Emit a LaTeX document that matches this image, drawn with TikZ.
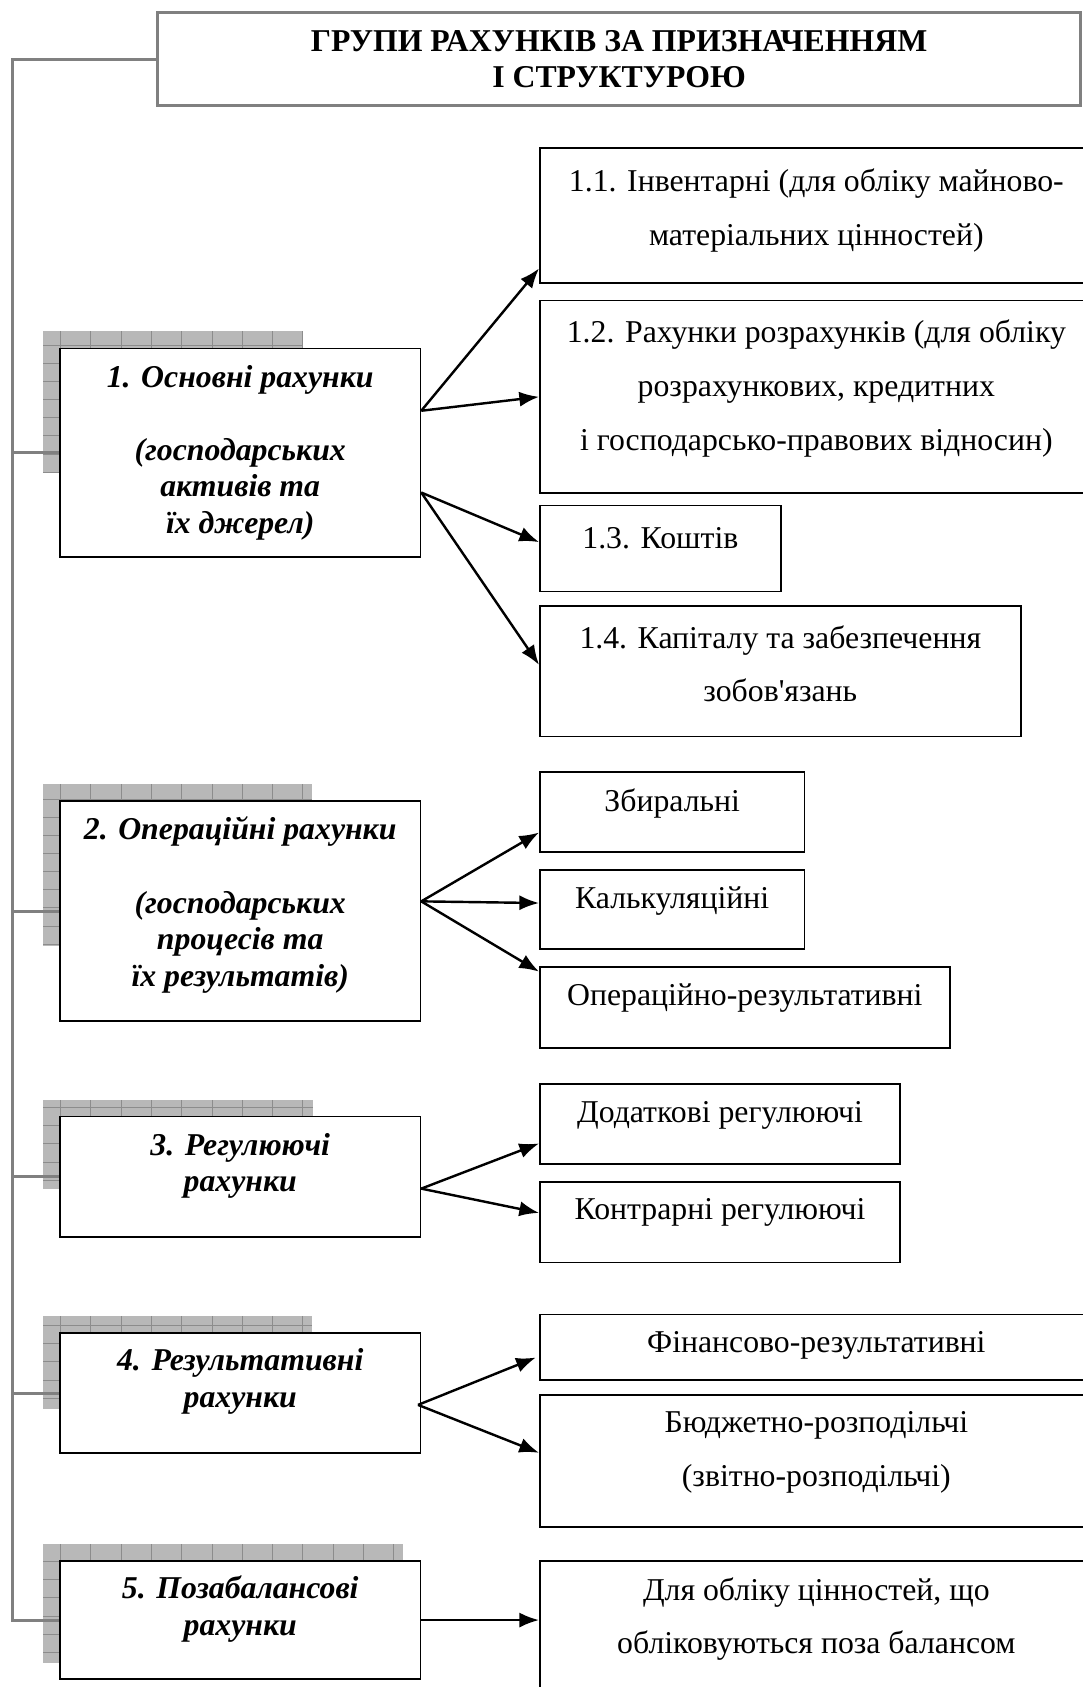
\documentclass[tikz,border=0pt]{standalone}
\usepackage{fontspec}
\setmainfont{Liberation Serif}
\usetikzlibrary{arrows.meta,positioning,backgrounds}
\newdimen\pxu
\pxu=0.025cm
\tikzset{
    textlift/.store in=\liftkern, textlift=0,
    box/.style 2 args={draw, line width=1.1pt, fill=white, inner sep=0pt, anchor=north west,
        execute at begin node={\begin{minipage}[c][#2\pxu][c]{#1\pxu}\centering},
        execute at end node={\par\kern\liftkern\pxu\end{minipage}}},
    head/.style 2 args={box={#1}{#2}, draw=black!50, line width=2pt, font={\fontsize{21}{23.5}\selectfont\bfseries}},
    group/.style 2 args={box={#1}{#2}, font={\fontsize{21}{24.2}\selectfont\bfseries\itshape}},
    kind/.style 2 args={box={#1}{#2}, font={\fontsize{21}{35.6}\selectfont}},
    line/.style={draw, line width=1.6pt, -{Latex[length=13pt,width=10pt]}},
    trunk/.style={draw=black!50, line width=2pt},
    shade/.style={fill=black!28},
    mesh/.style={draw=black!45, line width=0.4pt, xstep=20pt, ystep=12pt}
}
\begin{document}
\begin{tikzpicture}[x=0.025cm, y=-0.025cm]
    \useasboundingbox (0,0) rectangle (1006,1568);
    % Title
    \node [head={858}{87}] (title) at (145,10) {ГРУПИ РАХУНКІВ ЗА ПРИЗНАЧЕННЯМ\\І СТРУКТУРОЮ};

    % Groups of accounts
    \node [group={335}{194}] (osn) at (55,323) {1. Основні рахунки\\[24.2pt](господарських\\активів та\\їх джерел)};
    \node [group={335}{204}, textlift=11] (oper) at (55,744) {2. Операційні рахунки\\[24.2pt](господарських\\процесів та\\їх результатів)};
    \node [group={335}{112}, textlift=20] (reg) at (55,1037) {3. Регулюючі\\рахунки};
    \node [group={335}{112}, textlift=22] (rez) at (55,1238) {4. Результативні\\рахунки};
    \node [group={335}{110}, textlift=20] (poz) at (55,1450) {5. Позабалансові\\рахунки};

    % Kinds of the main accounts
    \node [kind={514}{125}, textlift=9] (inv) at (501,137) {1.1. Інвентарні (для обліку майново-\\матеріальних цінностей)};
    \node [kind={514}{179}, textlift=16, below right=15\pxu and 0pt of inv.south west] (rozr) {1.2. Рахунки розрахунків (для обліку\\розрахункових, кредитних\\і господарсько-правових відносин)};
    \node [kind={224}{80}, textlift=20, below right=10\pxu and 0pt of rozr.south west] (kosh) {1.3. Коштів};
    \node [kind={447}{121}, textlift=14, below right=12\pxu and 0pt of kosh.south west] (kap) {1.4. Капіталу та забезпечення\\зобов\textquotesingle язань};

    % Kinds of the operating accounts
    \node [kind={246}{74}, textlift=16] (zbyr) at (501,717) {Збиральні};
    \node [kind={246}{74}, textlift=16, below right=15\pxu and 0pt of zbyr.south west] (kalk) {Калькуляційні};
    \node [kind={381}{75}, textlift=17, below right=15\pxu and 0pt of kalk.south west] (opres) {Операційно-результативні};

    % Kinds of the regulating accounts
    \node [kind={335}{74}, textlift=16] (dod) at (501,1007) {Додаткові регулюючі};
    \node [kind={335}{75}, textlift=17, below right=15\pxu and 0pt of dod.south west] (kontr) {Контрарні регулюючі};

    % Kinds of the result accounts
    \node [kind={514}{61}, textlift=3] (fin) at (501,1221) {Фінансово-результативні};
    \node [kind={514}{123}, textlift=16, below right=12\pxu and 0pt of fin.south west] (bud) {Бюджетно-розподільчі\\(звітно-розподільчі)};

    % Off-balance accounts
    \node [kind={514}{124}, textlift=16] (poza) at (501,1450) {Для обліку цінностей, що\\обліковуються поза балансом};

    % Shadows behind the groups
    \begin{scope}[on background layer]
        \foreach \g/\w/\h in {osn/242/132, oper/250/150, reg/251/83, rez/250/87, poz/335/111} {
            \fill [shade] ([shift={(-15,-15)}]\g.north west) rectangle ++(\w,\h);
            \draw [mesh] ([shift={(-15,-15)}]\g.north west) grid ++(\w,\h);
        }
    \end{scope}

    % Trunk from the title
    \coordinate (spine) at (12,0);
    \draw [trunk] (title.west) -| (spine |- poz.west) -- (poz.west);
    \foreach \g in {osn,oper,reg,rez}
        \draw [trunk] (spine |- \g.west) -- (\g.west);

    % Arrows to the kinds
    \path [line] ([yshift=39\pxu]osn.east) -- ([yshift=14\pxu]inv.south west);
    \path [line] ([yshift=39\pxu]osn.east) -- (rozr.west);
    \path [line] ([yshift=-37\pxu]osn.east) -- ([yshift=6\pxu]kosh.west);
    \path [line] ([yshift=-37\pxu]osn.east) -- ([yshift=6\pxu]kap.west);

    \path [line] ([yshift=9\pxu]oper.east) -- ([yshift=-19\pxu]zbyr.west);
    \path [line] ([yshift=9\pxu]oper.east) -- ([yshift=6\pxu]kalk.west);
    \path [line] ([yshift=9\pxu]oper.east) -- ([yshift=-5\pxu]opres.north west);

    \path [line] ([yshift=-11\pxu]reg.east) -- ([yshift=-18\pxu]dod.west);
    \path [line] ([yshift=-11\pxu]reg.east) -- ([yshift=8.5\pxu]kontr.west);

    \path [line] ([xshift=-3\pxu, yshift=-11\pxu]rez.east) -- ([xshift=-3\pxu, yshift=-9.5\pxu]fin.west);
    \path [line] ([xshift=-3\pxu, yshift=-11\pxu]rez.east) -- ([yshift=7.5\pxu]bud.west);

    \path [line] (poz.east) -- (poz.east -| poza.west);
\end{tikzpicture}
\end{document}
